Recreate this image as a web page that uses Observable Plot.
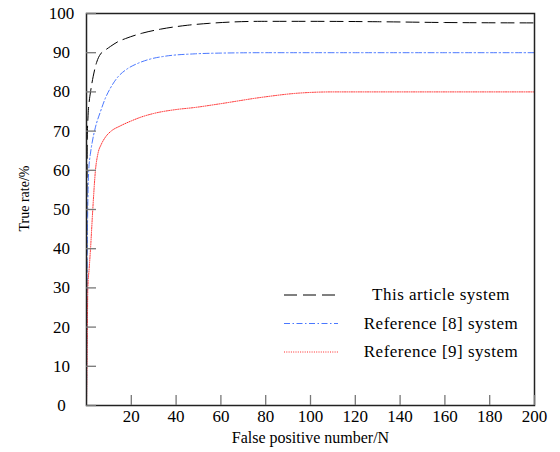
<!DOCTYPE html>
<html><head><meta charset="utf-8">
<script src="https://cdn.jsdelivr.net/npm/d3@7"></script>
<script src="https://cdn.jsdelivr.net/npm/@observablehq/plot@0.6"></script>
<style>
body{margin:0;background:#fff;}
#wrap{position:relative;width:560px;height:452px;}
#legend{position:absolute;left:0;top:0;pointer-events:none;}
svg text{font-family:"Liberation Serif","Times New Roman",Tinos,"DejaVu Serif",serif !important;}
</style></head><body><div id="wrap"></div>
<script>
// Series names
const seriesNames = ["This article system", "Reference [8] system", "Reference [9] system"];
// This article system
const thisX = [0, 0.1, 0.2, 0.35, 0.7, 1.2, 1.8, 3, 4.5, 6.3, 8, 10.7, 14, 17.4, 25, 33, 45, 55, 78, 100, 130, 160, 200];
const thisY = [0, 30, 50, 68, 74, 77.5, 80, 84, 87.5, 89.7, 90.5, 91.6, 92.8, 93.6, 95, 96, 97, 97.5, 98, 98, 97.9, 97.7, 97.6];
// Reference [8] system
const ref8X = [0, 0.2, 0.5, 1, 1.7, 2.5, 4, 6.25, 8.5, 10.7, 14, 18, 23, 28.6, 35, 48, 60, 80, 120, 160, 200];
const ref8Y = [0, 30, 48, 60, 64, 67, 71, 75, 78.5, 81, 83.8, 85.8, 87.3, 88.4, 89.1, 89.7, 89.9, 90, 90, 90, 90];
// Reference [9] system
const ref9X = [0, 0.3, 0.6, 1.2, 1.8, 2.8, 4, 5.2, 6.5, 8.5, 11, 15, 20, 24, 30, 40, 48, 60, 78, 95, 110, 140, 170, 200];
const ref9Y = [0, 15, 30, 35, 40, 50, 60, 64.5, 66.5, 68.5, 70, 71.3, 72.6, 73.5, 74.5, 75.5, 76, 77, 78.6, 79.7, 80, 80, 80, 80];
// Tick values
const xTicks = [20, 40, 60, 80, 100, 120, 140, 160, 180, 200];
const yTicks = [0, 10, 20, 30, 40, 50, 60, 70, 80, 90, 100];
const colors = ["#000000", "#4a78ff", "#ff2a2a"];
const dashes = ["13,6", "6,2.5,1.5,2.5", "1,1.3"];
const widths = [1, 1, 1];

const rows = (xs, ys, s) => xs.map((x, i) => ({x, y: ys[i], s}));
const data = [
  ...rows(thisX, thisY, seriesNames[0]),
  ...rows(ref8X, ref8Y, seriesNames[1]),
  ...rows(ref9X, ref9Y, seriesNames[2])
];

const chart = Plot.plot({
  width: 560, height: 452,
  marginLeft: 86, marginRight: 26, marginTop: 13, marginBottom: 47,
  style: {fontSize: "17px", color: "#000", background: "#fff"},
  x: {domain: [0, 200]},
  y: {domain: [0, 100]},
  marks: [
    ...seriesNames.map((name, i) => Plot.line(data.filter(d => d.s === name), {
      x: "x", y: "y", stroke: colors[i], strokeWidth: widths[i], strokeDasharray: dashes[i], curve: "monotone-x"
    })),
    Plot.frame({stroke: "#222", strokeWidth: 1.5}),
    Plot.axisX({ticks: xTicks, tickSize: -10, tickPadding: 14, stroke: "#777", strokeWidth: 1.3,
      fontSize: 17, label: null}),
    Plot.axisY({ticks: yTicks, tickSize: -10, tickPadding: 35, textAnchor: "middle", stroke: "#777", strokeWidth: 1.3,
      fontSize: 17, label: null}),
    Plot.text(["False positive number/N"], {text: d => d, frameAnchor: "bottom", textAnchor: "middle", dy: 37, fontSize: 16}),
    Plot.text(["True rate/%"], {text: d => d, frameAnchor: "left", textAnchor: "middle", rotate: -90, dx: -62, dy: -11, fontSize: 14})
  ]
});
const wrap = document.getElementById("wrap");
wrap.appendChild(chart);

// Legend overlay (inside plot, lower right)
const lg = d3.select(wrap).append("svg").attr("id", "legend").attr("width", 560).attr("height", 452)
  .style("font-size", "17px");
seriesNames.forEach((name, i) => {
  const y = 295 + i * 28.5;
  lg.append("line").attr("x1", 284).attr("x2", 338).attr("y1", y).attr("y2", y)
    .attr("stroke", colors[i]).attr("stroke-width", widths[i]).attr("stroke-dasharray", dashes[i]);
  lg.append("text").attr("x", 441).attr("y", y).attr("dy", "0.32em").attr("text-anchor", "middle")
    .style("letter-spacing", "0.5px").text(name);
});
</script></body></html>
